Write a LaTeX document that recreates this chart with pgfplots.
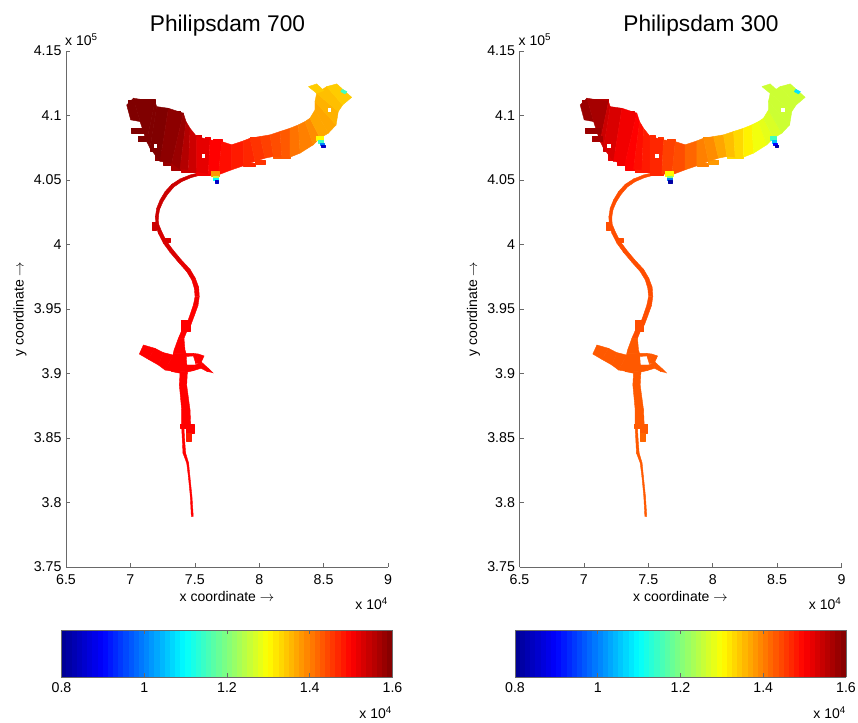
\documentclass[border=0pt]{standalone}
\usepackage{pgfplots}
\usepackage{pgfplotstable}
\usepackage{fontspec}
\setmainfont{Liberation Sans}
\pgfplotsset{compat=1.18}

% estuary: pairs of points across the channel, west to east
\pgfplotstableread{
x y m1 m2
6.971 4.1082 1.60 1.58
7.002 4.0966 1.60 1.58
7.023 4.1134 1.60 1.57
7.075 4.0953 1.60 1.57
7.191 4.1108 1.60 1.54
7.126 4.0798 1.60 1.54
7.204 4.1069 1.60 1.53
7.152 4.0747 1.60 1.53
7.295 4.1056 1.59 1.51
7.230 4.0644 1.59 1.51
7.411 4.1018 1.58 1.50
7.320 4.0631 1.58 1.50
7.432 4.0953 1.56 1.49
7.385 4.0584 1.56 1.49
7.463 4.0901 1.54 1.48
7.450 4.0579 1.54 1.48
7.514 4.0837 1.52 1.47
7.514 4.0566 1.52 1.47
7.618 4.0811 1.50 1.45
7.605 4.0548 1.50 1.45
7.709 4.0798 1.49 1.44
7.683 4.0540 1.49 1.44
7.786 4.0773 1.48 1.42
7.786 4.0579 1.48 1.42
7.877 4.0803 1.47 1.40
7.877 4.0610 1.47 1.40
7.929 4.0824 1.46 1.39
7.967 4.0644 1.46 1.39
8.006 4.0837 1.45 1.37
8.045 4.0669 1.45 1.37
8.084 4.0850 1.44 1.35
8.110 4.0682 1.44 1.35
8.162 4.0876 1.43 1.33
8.174 4.0677 1.43 1.33
8.239 4.0901 1.41 1.31
8.239 4.0677 1.41 1.31
8.304 4.0927 1.40 1.29
8.317 4.0708 1.40 1.29
8.356 4.0953 1.39 1.28
8.420 4.0773 1.39 1.28
8.394 4.0979 1.37 1.27
8.472 4.0824 1.37 1.27
8.433 4.1043 1.37 1.26
8.537 4.0863 1.37 1.26
8.433 4.1108 1.36 1.26
8.597 4.0927 1.36 1.26
8.446 4.1172 1.35 1.26
8.614 4.1031 1.35 1.26
8.524 4.1224 1.34 1.26
8.648 4.1082 1.34 1.26
8.602 4.1245 1.33 1.26
8.718 4.1141 1.33 1.26
}\estuary

% stepped cells along the edges of the estuary: four corners each
\pgfplotstableread{
x y m1 m2
6.984 4.1121 1.60 1.57
7.036 4.1121 1.60 1.57
7.036 4.1095 1.60 1.57
6.984 4.1095 1.60 1.57
7.075 4.1126 1.60 1.56
7.191 4.1126 1.60 1.56
7.191 4.1095 1.60 1.56
7.075 4.1095 1.60 1.56
7.320 4.1035 1.60 1.53
7.390 4.1035 1.60 1.53
7.390 4.1005 1.60 1.53
7.320 4.1005 1.60 1.53
7.514 4.0845 1.53 1.47
7.553 4.0845 1.53 1.47
7.553 4.0819 1.53 1.47
7.514 4.0819 1.53 1.47
7.579 4.0829 1.51 1.46
7.618 4.0829 1.51 1.46
7.618 4.0803 1.51 1.46
7.579 4.0803 1.51 1.46
7.644 4.0816 1.50 1.45
7.709 4.0816 1.50 1.45
7.709 4.0785 1.50 1.45
7.644 4.0785 1.50 1.45
7.929 4.0829 1.46 1.39
8.006 4.0829 1.46 1.39
8.006 4.0806 1.46 1.39
7.929 4.0806 1.46 1.39
7.152 4.0773 1.60 1.54
7.204 4.0773 1.60 1.54
7.204 4.0721 1.60 1.54
7.152 4.0721 1.60 1.54
7.191 4.0721 1.59 1.52
7.256 4.0721 1.59 1.52
7.256 4.0651 1.59 1.52
7.191 4.0651 1.59 1.52
7.256 4.0656 1.58 1.51
7.320 4.0656 1.58 1.51
7.320 4.0618 1.58 1.51
7.256 4.0618 1.58 1.51
7.320 4.0631 1.57 1.50
7.398 4.0631 1.57 1.50
7.398 4.0579 1.57 1.50
7.320 4.0579 1.57 1.50
7.398 4.0592 1.54 1.48
7.514 4.0592 1.54 1.48
7.514 4.0558 1.54 1.48
7.398 4.0558 1.54 1.48
7.514 4.0571 1.51 1.47
7.618 4.0571 1.51 1.47
7.618 4.0540 1.51 1.47
7.514 4.0540 1.51 1.47
7.877 4.0631 1.47 1.40
7.967 4.0631 1.47 1.40
7.967 4.0605 1.47 1.40
7.877 4.0605 1.47 1.40
7.967 4.0656 1.46 1.38
8.045 4.0656 1.46 1.38
8.045 4.0625 1.46 1.38
7.967 4.0625 1.46 1.38
8.110 4.0695 1.43 1.33
8.239 4.0695 1.43 1.33
8.239 4.0669 1.43 1.33
8.110 4.0669 1.43 1.33
}\edges

% river from the estuary down to the junction
\pgfplotstableread{
x y m1 m2
7.566 4.0564 1.54 1.44
7.566 4.0544 1.54 1.44
7.463 4.0539 1.54 1.44
7.470 4.0518 1.54 1.44
7.385 4.0508 1.54 1.44
7.398 4.0487 1.54 1.44
7.320 4.0466 1.54 1.44
7.338 4.0446 1.54 1.44
7.269 4.0410 1.54 1.44
7.289 4.0389 1.54 1.44
7.230 4.0345 1.54 1.44
7.253 4.0332 1.54 1.44
7.204 4.0281 1.54 1.44
7.227 4.0273 1.54 1.44
7.194 4.0216 1.54 1.44
7.217 4.0216 1.54 1.44
7.196 4.0152 1.54 1.44
7.219 4.0159 1.54 1.44
7.217 4.0087 1.53 1.44
7.243 4.0100 1.53 1.44
7.256 4.0010 1.53 1.44
7.279 4.0028 1.53 1.44
7.307 3.9940 1.53 1.44
7.331 3.9958 1.53 1.44
7.372 3.9863 1.52 1.44
7.395 3.9881 1.52 1.44
7.437 3.9790 1.52 1.44
7.463 3.9808 1.52 1.44
7.476 3.9726 1.51 1.44
7.504 3.9739 1.51 1.44
7.496 3.9661 1.51 1.44
7.530 3.9669 1.51 1.44
7.502 3.9597 1.51 1.44
7.535 3.9597 1.51 1.44
7.489 3.9532 1.50 1.44
7.525 3.9527 1.50 1.44
7.463 3.9455 1.50 1.44
7.496 3.9447 1.50 1.44
7.437 3.9383 1.50 1.44
7.470 3.9378 1.50 1.44
7.400 3.9337 1.50 1.44
7.442 3.9337 1.50 1.44
7.372 3.9272 1.50 1.43
7.416 3.9272 1.50 1.43
7.339 3.9182 1.50 1.43
7.424 3.9182 1.50 1.43
7.333 3.9156 1.50 1.43
7.432 3.9156 1.50 1.43
7.320 3.9015 1.50 1.43
7.442 3.9015 1.50 1.43
7.385 3.9002 1.50 1.43
7.442 3.9002 1.50 1.43
7.380 3.8911 1.50 1.43
7.437 3.8911 1.50 1.43
7.398 3.8718 1.50 1.43
7.463 3.8718 1.50 1.43
7.398 3.8602 1.50 1.43
7.468 3.8602 1.50 1.43
7.398 3.8577 1.50 1.43
7.416 3.8577 1.50 1.43
7.403 3.8486 1.50 1.43
7.421 3.8486 1.50 1.43
7.408 3.8383 1.50 1.43
7.429 3.8383 1.50 1.43
7.437 3.8306 1.50 1.43
7.452 3.8306 1.50 1.43
7.450 3.8203 1.50 1.43
7.462 3.8203 1.50 1.43
7.465 3.8048 1.50 1.43
7.478 3.8048 1.50 1.43
7.473 3.7893 1.49 1.42
7.488 3.7893 1.49 1.42
}\river

% western arm at the junction
\pgfplotstableread{
x y m1 m2
7.101 3.9221 1.50 1.43
7.069 3.9151 1.50 1.43
7.191 3.9195 1.50 1.43
7.139 3.9110 1.50 1.43
7.256 3.9162 1.50 1.43
7.217 3.9066 1.50 1.43
7.333 3.9143 1.50 1.43
7.269 3.9027 1.50 1.43
7.424 3.9156 1.50 1.43
7.385 3.9007 1.50 1.43
}\westarm

% eastern arms at the junction
\pgfplotstableread{
x y m1 m2
7.424 3.9066 1.50 1.43
7.424 3.9007 1.50 1.43
7.502 3.9066 1.50 1.43
7.489 3.9022 1.50 1.43
7.553 3.9087 1.50 1.43
7.548 3.9040 1.50 1.43
7.605 3.9040 1.50 1.43
7.597 3.9015 1.50 1.43
7.644 3.9002 1.50 1.43
7.639 3.9007 1.50 1.43
}\eastlow
\pgfplotstableread{
x y m1 m2
7.424 3.9156 1.50 1.43
7.424 3.9131 1.50 1.43
7.489 3.9156 1.50 1.43
7.489 3.9136 1.50 1.43
7.528 3.9151 1.50 1.43
7.507 3.9079 1.50 1.43
7.572 3.9136 1.50 1.43
7.546 3.9079 1.50 1.43
}\eastup

% separate cells: four corners each
\pgfplotstableread{
x y m1 m2
7.010 4.0901 1.60 1.58
7.126 4.0901 1.60 1.58
7.126 4.0863 1.60 1.58
7.010 4.0863 1.60 1.58
7.062 4.0837 1.60 1.57
7.139 4.0837 1.60 1.57
7.139 4.0798 1.60 1.57
7.062 4.0798 1.60 1.57
8.382 4.1224 1.34 1.26
8.446 4.1245 1.34 1.26
8.503 4.1193 1.34 1.26
8.446 4.1172 1.34 1.26
8.645 4.1203 1.15 1.08
8.682 4.1185 1.15 1.08
8.666 4.1167 1.15 1.08
8.633 4.1185 1.15 1.08
7.631 4.0566 1.38 1.30
7.690 4.0566 1.38 1.30
7.690 4.0533 1.38 1.30
7.631 4.0533 1.38 1.30
7.644 4.0533 1.25 1.20
7.683 4.0533 1.25 1.20
7.683 4.0514 1.25 1.20
7.644 4.0514 1.25 1.20
7.644 4.0514 1.10 1.00
7.683 4.0514 1.10 1.00
7.683 4.0496 1.10 1.00
7.644 4.0496 1.10 1.00
7.657 4.0496 0.85 0.82
7.683 4.0496 0.85 0.82
7.683 4.0476 0.85 0.82
7.657 4.0476 0.85 0.82
8.446 4.0842 1.30 1.15
8.493 4.0842 1.30 1.15
8.493 4.0806 1.30 1.15
8.446 4.0806 1.30 1.15
8.459 4.0806 1.15 1.05
8.493 4.0806 1.15 1.05
8.493 4.0785 1.15 1.05
8.459 4.0785 1.15 1.05
8.472 4.0785 1.00 0.90
8.503 4.0785 1.00 0.90
8.503 4.0770 1.00 0.90
8.472 4.0770 1.00 0.90
8.482 4.0770 0.85 0.82
8.511 4.0770 0.85 0.82
8.511 4.0752 0.85 0.82
8.482 4.0752 0.85 0.82
7.170 4.0172 1.54 1.44
7.204 4.0172 1.54 1.44
7.204 4.0113 1.54 1.44
7.170 4.0113 1.54 1.44
7.269 4.0048 1.53 1.44
7.307 4.0048 1.53 1.44
7.307 4.0017 1.53 1.44
7.269 4.0017 1.53 1.44
7.398 3.9416 1.50 1.44
7.463 3.9416 1.50 1.44
7.463 3.9325 1.50 1.44
7.398 3.9325 1.50 1.44
7.390 3.8610 1.50 1.43
7.494 3.8610 1.50 1.43
7.494 3.8577 1.50 1.43
7.390 3.8577 1.50 1.43
7.437 3.8577 1.50 1.43
7.494 3.8577 1.50 1.43
7.494 3.8538 1.50 1.43
7.437 3.8538 1.50 1.43
7.437 3.8538 1.48 1.42
7.473 3.8538 1.48 1.42
7.473 3.8474 1.48 1.42
7.437 3.8474 1.48 1.42
}\cells

\definecolor{axgray}{RGB}{105,105,105}

\pgfplotsset{
  colormap={mjet}{rgb255(0cm)=(0,0,143); rgb255(1cm)=(0,0,255); rgb255(3cm)=(0,255,255); rgb255(5cm)=(255,255,0); rgb255(7cm)=(255,0,0); rgb255(8cm)=(128,0,0)},
  panel/.style={
    scale only axis, width=322pt, height=516pt,
    anchor=south west,
    xmin=6.5, xmax=9, ymin=3.75, ymax=4.15,
    axis lines=left, axis line style={-, draw=axgray, line width=0.7pt},
    tick style={draw=axgray, line width=0.6pt},
    tickwidth=4pt, tick align=inside,
    xtick={6.5,7,7.5,8,8.5,9}, xticklabels={6.5,7,7.5,8,8.5,9},
    ytick={3.75,3.8,3.85,3.9,3.95,4,4.05,4.1,4.15},
    yticklabels={3.75,3.8,3.85,3.9,3.95,4,4.05,4.1,4.15},
    ticklabel style={font=\fontsize{14.2}{14}\selectfont},
    xticklabel style={anchor=north, text height=10pt, text depth=0pt, yshift=-3.5pt},
    yticklabel style={xshift=-1pt},
    xlabel={x coordinate $\rightarrow$},
    ylabel={y coordinate $\rightarrow$},
    x label style={at={(axis description cs:0.5,-0.0581)}, anchor=center, font=\fontsize{14}{14}\selectfont},
    y label style={at={(axis description cs:-0.143,0.5)}, anchor=center, font=\fontsize{14}{14}\selectfont},
    point meta min=0.8, point meta max=1.6,
    colorbar horizontal, colorbar sampled,
    colorbar style={
      samples=65, scale only axis, width=331pt, height=47pt,
      at={(0.5,-0.1221)}, anchor=north,
      axis line style={draw=axgray, line width=0.8pt},
      xtick={0.8,1,1.2,1.4,1.6}, xticklabels={0.8,1,1.2,1.4,1.6},
      xtick pos=both, xticklabel pos=lower, tick align=inside,
      tick style={draw=axgray, line width=0.6pt},
      tickwidth=4pt, ytick=\empty,
      ticklabel style={font=\fontsize{14.2}{14}\selectfont},
      xticklabel style={anchor=north, text height=10pt, text depth=0pt, yshift=-2pt},
      xlabel={}, ylabel={},
    },
  },
  cellstrip/.style={surf, shader=flat corner, mesh/cols=2, point meta=explicit},
  cellquads/.style={patch, patch type=rectangle, shader=flat, point meta=explicit},
}

\newcommand{\drawriver}[1]{%
  \addplot[cellstrip] table[x=x,y=y,meta=#1]{\river};
  \addplot[cellstrip] table[x=x,y=y,meta=#1]{\westarm};
  \addplot[cellstrip] table[x=x,y=y,meta=#1]{\eastlow};
  \addplot[cellstrip] table[x=x,y=y,meta=#1]{\eastup};
  \addplot[cellquads] table[x=x,y=y,meta=#1]{\edges};
  \addplot[cellstrip] table[x=x,y=y,meta=#1]{\estuary};
  \addplot[cellquads] table[x=x,y=y,meta=#1]{\cells};
  \addplot[only marks, mark=square*, mark size=1.3pt, white] coordinates {(7.566,4.0688) (7.191,4.0765) (8.544,4.1043)};
}

\begin{document}
\begin{tikzpicture}[x=1pt,y=1pt]
\path[use as bounding box] (0,0) rectangle (858,722);
\begin{axis}[panel, at={(66pt,155pt)}]
\drawriver{m1}
\end{axis}
\begin{axis}[panel, at={(519.5pt,155pt)}]
\drawriver{m2}
\end{axis}
\node[font=\fontsize{22.7}{24}\selectfont] at (227.5,696.5) {Philipsdam 700};
\node[font=\fontsize{22.7}{24}\selectfont] at (701,696.5) {Philipsdam 300};
\node[anchor=west,font=\fontsize{14}{14}\selectfont,inner sep=0pt] at (65,682) {x 10\textsuperscript{5}};
\node[anchor=west,font=\fontsize{14}{14}\selectfont,inner sep=0pt] at (518.5,682) {x 10\textsuperscript{5}};
\node[anchor=east,font=\fontsize{14}{14}\selectfont,inner sep=0pt] at (388,118) {x 10\textsuperscript{4}};
\node[anchor=east,font=\fontsize{14}{14}\selectfont,inner sep=0pt] at (841.5,118) {x 10\textsuperscript{4}};
\node[anchor=east,font=\fontsize{14}{14}\selectfont,inner sep=0pt] at (392,9) {x 10\textsuperscript{4}};
\node[anchor=east,font=\fontsize{14}{14}\selectfont,inner sep=0pt] at (846,9) {x 10\textsuperscript{4}};
\end{tikzpicture}
\end{document}
